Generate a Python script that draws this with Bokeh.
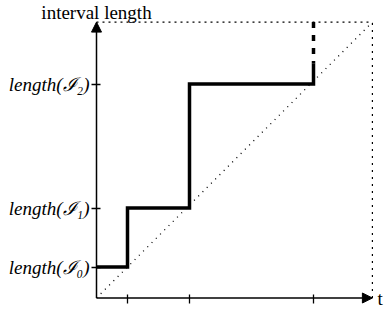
from bokeh.plotting import figure
from bokeh.models import Arrow, NormalHead, Label, FixedTicker, Range1d, LinearAxis
from bokeh.embed import file_html
from bokeh.resources import INLINE

# data
times = [1.0, 3.0, 7.0]
lengths = [1.0, 2.9, 6.9]
length_labels = ["length(ℐ₀)", "length(ℐ₁)", "length(ℐ₂)"]
x_max = 8.9
y_max = 8.9
solid_top = 7.56

step_x = [0, times[0], times[0], times[1], times[1], times[2], times[2]]
step_y = [lengths[0], lengths[0], lengths[1], lengths[1], lengths[2], lengths[2], solid_top]

W, H = 384, 313
kx, ky = 31.0, 31.0           # pixels per unit
ox, oy = 96.0, 297.5          # origin inside the canvas
p = figure(width=W, height=H,
           x_range=Range1d(-ox / kx, (W - ox) / kx),
           y_range=Range1d(-(H - oy) / ky, oy / ky),
           output_backend="svg", toolbar_location=None,
           x_axis_location=None, y_axis_location=None,
           min_border=0, min_border_left=0, min_border_right=0,
           min_border_top=0, min_border_bottom=0)
p.outline_line_color = None
p.grid.visible = False
p.background_fill_color = "white"
p.border_fill_color = "white"

# dotted box and diagonal
p.line([0, x_max], [y_max, y_max], line_color="black", line_width=1.2, line_dash="2 4")
p.line([x_max, x_max], [0, y_max], line_color="black", line_width=1.2, line_dash="2 5")
p.line([0, x_max], [0, y_max], line_color="black", line_width=1.3, line_dash="1 5")

# step function
p.line(step_x, step_y, line_color="black", line_width=3.5, line_join="miter")
p.line([times[2], times[2]], [y_max, solid_top], line_color="black", line_width=3.5, line_dash="6 7")

# axes drawn at the origin
xaxis = LinearAxis(fixed_location=0, ticker=FixedTicker(ticks=times))
yaxis = LinearAxis(fixed_location=0, ticker=FixedTicker(ticks=lengths))
for ax in (xaxis, yaxis):
    ax.axis_line_color = None
    ax.major_tick_in = 4
    ax.major_tick_out = 5
    ax.major_tick_line_width = 1.3
    ax.major_tick_line_color = "black"
    ax.minor_tick_line_color = None
xaxis.major_label_text_color = None
yaxis.major_label_overrides = {v: t for v, t in zip(lengths, length_labels)}
yaxis.major_label_text_font = "Liberation Serif"
yaxis.major_label_text_font_style = "italic"
yaxis.major_label_text_font_size = "19px"
yaxis.major_label_text_color = "black"
yaxis.major_label_standoff = 2
p.add_layout(xaxis, "below")
p.add_layout(yaxis, "left")

p.add_layout(Arrow(x_start=0, y_start=0, x_end=0, y_end=y_max, line_width=1.5, line_color="black",
                   end=NormalHead(size=10, fill_color="black", line_color="black", line_width=1)))
p.add_layout(Arrow(x_start=0, y_start=0, x_end=x_max, y_end=0, line_width=1.5, line_color="black",
                   end=NormalHead(size=10, fill_color="black", line_color="black", line_width=1)))

p.add_layout(Label(x=0, y=y_max, text="interval length", text_align="center", text_baseline="alphabetic",
                   y_offset=10, text_font="Liberation Serif", text_font_size="19px", text_color="black"))
p.add_layout(Label(x=x_max, y=0, text="t", text_align="left", text_baseline="middle",
                   x_offset=5, text_font="Liberation Serif", text_font_size="19px", text_color="black"))

open("out.html", "w").write(file_html(p, INLINE))
